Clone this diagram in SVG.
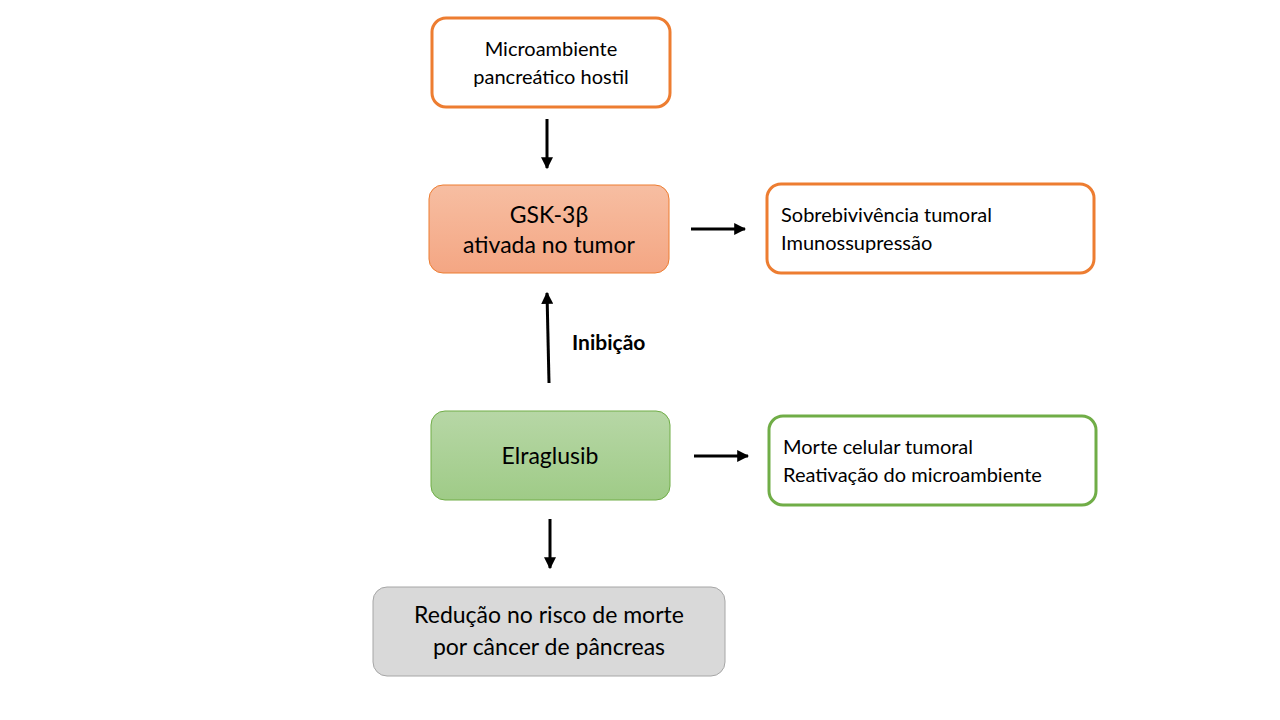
<svg xmlns="http://www.w3.org/2000/svg" width="1280" height="720" viewBox="0 0 1280 720">
<style>
text{font-family:Lato,"Open Sans",sans-serif;fill:#000}
.c{text-anchor:middle}
.line{stroke:#000;stroke-width:3;fill:none}
</style>
<defs>
<linearGradient id="go" x1="0" y1="0" x2="0" y2="1"><stop offset="0" stop-color="#F7BEA2"/><stop offset="1" stop-color="#F4A683"/></linearGradient>
<linearGradient id="gg" x1="0" y1="0" x2="0" y2="1"><stop offset="0" stop-color="#B7D7A6"/><stop offset="1" stop-color="#9FCB87"/></linearGradient>
<marker id="a" viewBox="0 0 10 10" refX="9" refY="5" markerWidth="4" markerHeight="4" orient="auto"><path d="M0 0L10 5L0 10z" fill="#000"/></marker>
</defs>
<rect width="1280" height="720" fill="#fff"/>
<g id="n1"><rect x="432" y="18" width="238" height="89" rx="14" fill="#fff" stroke="#ED7D31" stroke-width="3"/>
<text class="c" x="551" y="56" font-size="20">Microambiente</text><text class="c" x="551" y="84" font-size="20">pancreático hostil</text></g>
<g id="n2"><rect x="429" y="185" width="240" height="88" rx="14" fill="url(#go)" stroke="#ED7D31" stroke-width="1"/>
<text class="c" x="549" y="223" font-size="23">GSK-3β</text><text class="c" x="549" y="253" font-size="23">ativada no tumor</text></g>
<g id="n3"><rect x="767" y="184" width="327" height="89" rx="14" fill="#fff" stroke="#ED7D31" stroke-width="3"/>
<text x="781" y="222" font-size="20">Sobrebivivência tumoral</text><text x="781" y="250" font-size="20">Imunossupressão</text></g>
<g id="n4"><rect x="431" y="411" width="239" height="89" rx="14" fill="url(#gg)" stroke="#70AD47" stroke-width="1"/>
<text class="c" x="550" y="464" font-size="23">Elraglusib</text></g>
<g id="n5"><rect x="769" y="416" width="327" height="89" rx="14" fill="#fff" stroke="#70AD47" stroke-width="3"/>
<text x="783" y="454" font-size="20">Morte celular tumoral</text><text x="783" y="482" font-size="20">Reativação do microambiente</text></g>
<g id="n6"><rect x="373" y="587" width="352" height="89" rx="14" fill="#D9D9D9" stroke="#A6A6A6" stroke-width="1"/>
<text class="c" x="549" y="623" font-size="23">Redução no risco de morte</text><text class="c" x="549" y="655" font-size="23">por câncer de pâncreas</text></g>
<g id="connectors">
<line class="line" x1="547" y1="119" x2="547" y2="168" marker-end="url(#a)"/>
<line class="line" x1="691" y1="229" x2="745" y2="229" marker-end="url(#a)"/>
<line class="line" x1="549" y1="383" x2="547" y2="293" marker-end="url(#a)"/>
<line class="line" x1="694" y1="456" x2="748" y2="456" marker-end="url(#a)"/>
<line class="line" x1="550" y1="519" x2="550" y2="568" marker-end="url(#a)"/>
<text x="572" y="350" font-size="21" font-weight="bold">Inibição</text>
</g>
</svg>
